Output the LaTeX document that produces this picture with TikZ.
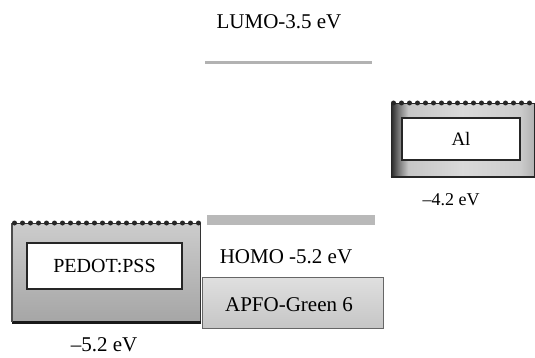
\documentclass[tikz,border=0pt]{standalone}
\usepackage{fontspec}
\setmainfont{Liberation Serif}
\pgfdeclarehorizontalshading{alshade}{100bp}{color(0bp)=(black!85); color(25bp)=(black!85); color(27.5bp)=(black!55); color(31bp)=(gray!45); color(50bp)=(gray!30); color(70bp)=(gray!40); color(75bp)=(gray!60); color(100bp)=(gray!60)}
\begin{document}
\begin{tikzpicture}[x=1pt,y=-1pt,
  lbl/.style={inner sep=0pt,font=\fontsize{21}{24}\selectfont},
  smalllbl/.style={inner sep=0pt,font=\fontsize{18}{21}\selectfont},
  pedotbox/.style={draw=black!80,line width=1pt,top color=gray!40,bottom color=gray!70,inner sep=0pt},
  albox/.style={draw=black!85,line width=1pt,shading=alshade,inner sep=0pt},
  apfobox/.style={draw=black!60,line width=0.8pt,top color=gray!25,bottom color=gray!45,inner sep=0pt},
  whitebox/.style={draw=black!85,line width=1.2pt,fill=white,inner sep=0pt},
  dotrow/.style={line width=5pt,line cap=round,dash pattern=on 0pt off 8pt,black!85},
  level/.style={draw=none,fill=gray!60,inner sep=0pt}
]
\useasboundingbox[fill=white] (0,0) rectangle (535,358);
% LUMO
\node[lbl] (lumo) at (279,22) {LUMO-3.5 eV};
\node[level,minimum width=167pt,minimum height=3pt] (lumoline) at (288.5,63) {};
% HOMO bar
\node[level,fill=gray!55,minimum width=168pt,minimum height=10pt] (homobar) at (291,219.5) {};
\node[lbl] (homo) at (286,257) {HOMO -5.2 eV};
% APFO box
\node[apfobox,minimum width=181pt,minimum height=51pt] (apfo) at (292.5,302.5) {};
\node[lbl] (apfotext) at (289,305) {APFO-Green 6};
% PEDOT box
\node[pedotbox,minimum width=188pt,minimum height=98pt] (pedot) at (106,272.5) {};
\draw[black!90,line width=3pt] (pedot.south west) -- (pedot.south east);
\draw[black!70,line width=2pt] (pedot.north west) -- (pedot.south west);
\draw[dotrow] ([xshift=3pt]pedot.north west) -- ([xshift=-2pt]pedot.north east);
\node[whitebox,minimum width=155pt,minimum height=46pt,font=\fontsize{20}{24}\selectfont] (pedotin) at (104.5,266) {PEDOT:PSS};
\node[lbl] (pedotlbl) at (104,345) {–5.2 eV};
% Al box
\node[albox,minimum width=143pt,minimum height=73pt] (al) at (462.5,140) {};
\draw[dotrow] ([xshift=3pt]al.north west) -- ([xshift=-2pt]al.north east);
\draw[black!85,line width=2.5pt] (al.south west) -- (al.south east);
\node[whitebox,minimum width=118pt,minimum height=42pt,font=\fontsize{19}{22}\selectfont] (alin) at (461,139) {Al};
\node[smalllbl] (allbl) at (451,200) {–4.2 eV};
\end{tikzpicture}
\end{document}
